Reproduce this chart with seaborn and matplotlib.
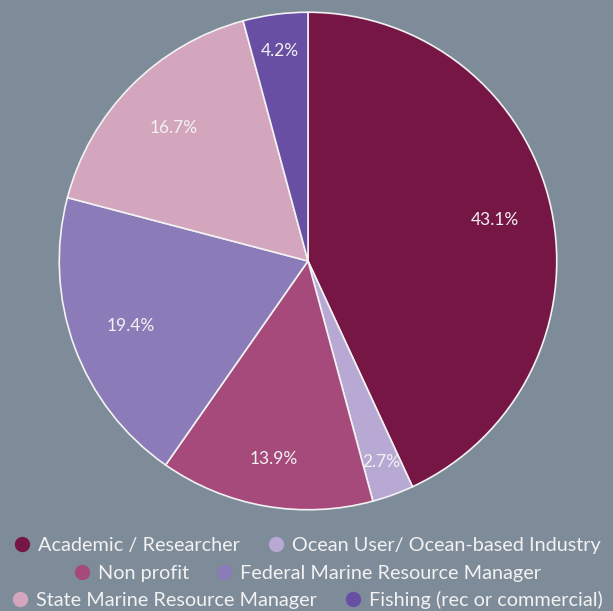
import matplotlib
matplotlib.use("Agg")
import numpy as np
import matplotlib.pyplot as plt
import seaborn as sns
from matplotlib.lines import Line2D

# data
categories = ["Academic / Researcher", "Ocean User/ Ocean-based Industry", "Non profit",
              "Federal Marine Resource Manager", "State Marine Resource Manager",
              "Fishing (rec or commercial)"]
shares = [43.1, 2.7, 13.9, 19.4, 16.7, 4.2]
colors = ["#761645", "#B8A9D4", "#A54A7A", "#8C7BB9", "#D4A6BE", "#684FA3"]
# radial position of each percentage label (fraction of radius)
label_dist = [0.77, 0.86, 0.81, 0.76, 0.76, 0.85]

BG = "#7E8B99"
TXT = "#F2F2F2"

sns.set_theme(style="white")
plt.rcParams["font.family"] = ["Lato", "DejaVu Sans"]

fig = plt.figure(figsize=(6.13, 6.11), dpi=100, facecolor=BG)
ax = fig.add_axes([58 / 613, (611 - 511) / 611, 500 / 613, 500 / 611])
ax.set_facecolor(BG)

wedges, texts, autotexts = ax.pie(
    shares, colors=colors, startangle=90, counterclock=False,
    autopct="%.1f%%", pctdistance=0.8,
    wedgeprops=dict(edgecolor="#F2F2F2", linewidth=1.2),
    textprops=dict(color=TXT, fontsize=12.5))
for w, t, d in zip(wedges, autotexts, label_dist):
    ang = np.deg2rad((w.theta1 + w.theta2) / 2)
    t.set_position((d * np.cos(ang), d * np.sin(ang)))
ax.set_xlim(-1.005, 1.005)
ax.set_ylim(-1.005, 1.005)
ax.set_aspect("equal")
ax.axis("off")

# legend rows, each centred like the original
rows = [(0, 1), (2, 3), (4, 5)]
row_y = [545, 573, 600]
for (a, b), y in zip(rows, row_y):
    handles = [Line2D([], [], marker="o", linestyle="", markersize=10,
                      markerfacecolor=colors[i], markeredgecolor=colors[i])
               for i in (a, b)]
    leg = fig.legend(handles, [categories[a], categories[b]], ncol=2,
                     loc="center", bbox_to_anchor=(0.5, 1 - y / 611),
                     frameon=False, fontsize=14.3, handletextpad=0.3,
                     columnspacing=1.3, handlelength=1.0, borderpad=0)
    for t in leg.get_texts():
        t.set_color(TXT)

fig.savefig("out.png", dpi=100, facecolor=BG)
